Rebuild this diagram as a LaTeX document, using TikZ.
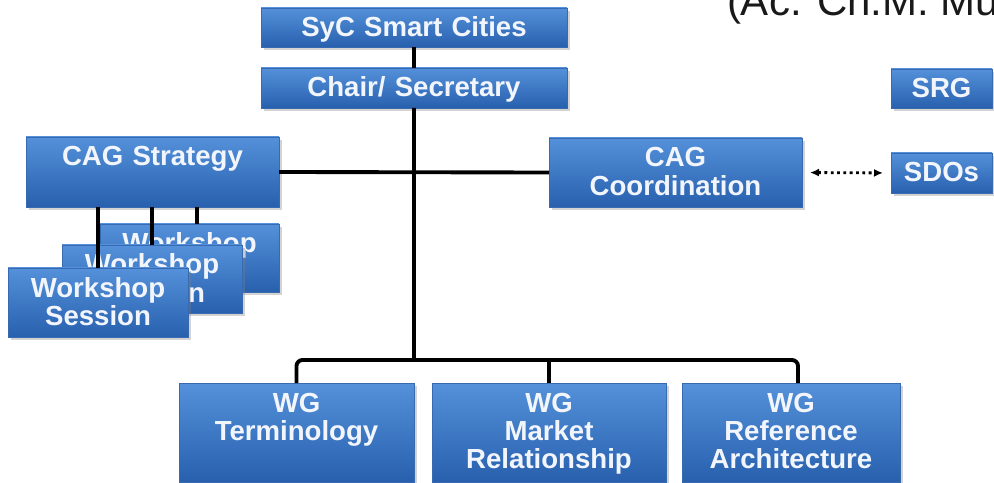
\documentclass[tikz,border=0pt]{standalone}
\usepackage{fontspec}
\setmainfont{Liberation Sans}
\usetikzlibrary{arrows.meta,shadows}

\definecolor{boxtop}{RGB}{84,145,218}
\definecolor{boxbottom}{RGB}{40,96,174}
\definecolor{boxline}{RGB}{56,106,178}
\definecolor{boxtext}{RGB}{242,246,252}
\definecolor{titlegray}{RGB}{25,25,25}

\begin{document}
\begin{tikzpicture}[x=0.2mm, y=-0.2mm, node distance=0 cm, outer sep=0pt]

\tikzstyle{unit}=[draw=boxline, rectangle, top color=boxtop, bottom color=boxbottom, drop shadow={shadow xshift=0.5mm, shadow yshift=-0.6mm, opacity=0.35}, inner sep=0pt, text height=5.8mm, align=center, text=boxtext, font=\fontsize{15.7}{16}\selectfont\bfseries, anchor=north west]
\tikzstyle{link}=[draw, line width=2.2pt]

\useasboundingbox (0,0) rectangle (994,483);
\clip (0,0) rectangle (994,483);

\node[unit, text width=61.2mm, text depth=2mm] (syc) at (261,8) {SyC Smart Cities};
\node[unit, text width=61.2mm, text depth=2.2mm] (chair) at (261,68) {Chair/ Secretary};
\node[unit, text width=50.6mm, text depth=8.2mm] (cagstrat) at (26,137) {CAG Strategy}; \node[unit, text width=50.6mm, text depth=8mm] (cagcoord) at (549,138) {CAG\\Coordination};
\node[unit, text width=20.2mm, text depth=2mm] (srg) at (891,69) {SRG}; \node[unit, text width=20.2mm, text depth=2.2mm] (sdo) at (891,153) {SDOs};

% workshop sessions, back to front
\node[unit, text width=35.8mm, text depth=7.8mm] (ws3) at (100,224) {Workshop\\Session};
\node[unit, text width=36mm, text depth=7.8mm] (ws2) at (62,245) {Workshop\\Session};
\node[unit, text width=36mm, text depth=8mm] (ws1) at (8,268) {Workshop\\Session};

\node[unit, text width=47mm, text depth=14mm] (wgterm) at (179,383) {WG\\Terminology}; \node[unit, text width=46.8mm, text depth=14mm] (wgmarket) at (432,383) {WG\\Market\\Relationship};
\node[unit, text width=43.6mm, text depth=14mm] (wgref) at (682,383) {WG\\Reference\\Architecture};

\node[anchor=base west, inner sep=0pt, font=\fontsize{23.9}{28}\selectfont, text=titlegray] (credit) at (727,16) {(Ac. Ch.M. Mu};

\coordinate (hub) at (414,360);

\draw[link] (syc) -- (chair);
\draw[link] (chair) -- (hub);
\draw[link] (cagstrat.east) -- (cagcoord.west);
\draw[link, rounded corners=1.2mm] (wgterm.north) |- (hub) -| ([xshift=1.4mm]wgref.north);
\draw[link] (hub) -| (wgmarket.north);

\draw[link] (ws1.north) -- (ws1.north |- cagstrat.south);
\draw[link] (ws2.north) -- (ws2.north |- cagstrat.south);
\draw[link] ([xshift=1.5mm]ws3.north) -- ([xshift=1.5mm]ws3.north |- cagstrat.south);

\draw[dotted, line width=1.6pt, {Latex[length=1.8mm,width=1.6mm]}-{Latex[length=1.8mm,width=1.6mm]}, shorten <=1.6mm, shorten >=1.6mm] (cagcoord.east) -- (sdo.west);

\end{tikzpicture}
\end{document}
